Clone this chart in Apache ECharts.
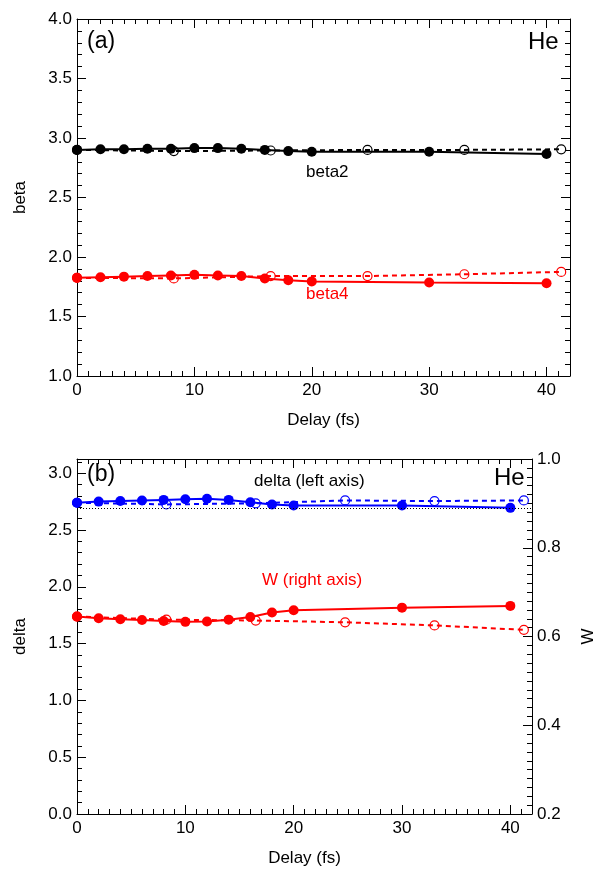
<!DOCTYPE html>
<html>
<head>
<meta charset="utf-8">
<script src="https://cdn.jsdelivr.net/npm/echarts@6/dist/echarts.min.js"></script>
<style>
  html, body { margin: 0; padding: 0; background: #fff; }
  #chart { width: 605px; height: 874px; }
</style>
</head>
<body>
<div id="chart"></div>
<script>
// Delay values (fs) for the two measurement sets
const delayFilled = [0, 2, 4, 6, 8, 10, 12, 14, 16, 18, 20, 30, 40];
const delayOpen = [0, 8.25, 16.5, 24.75, 33, 41.25];

// Panel (a): anisotropy parameters
const beta2Filled = [2.90, 2.905, 2.905, 2.91, 2.91, 2.915, 2.915, 2.91, 2.90, 2.89, 2.885, 2.885, 2.865];
const beta2Open = [2.90, 2.89, 2.895, 2.90, 2.90, 2.905];
const beta4Filled = [1.825, 1.83, 1.835, 1.84, 1.845, 1.85, 1.845, 1.84, 1.82, 1.805, 1.795, 1.785, 1.78];
const beta4Open = [1.825, 1.82, 1.84, 1.84, 1.855, 1.875];

// Panel (b): delta (left axis) and W (right axis)
const deltaFilled = [2.74, 2.75, 2.755, 2.76, 2.765, 2.77, 2.775, 2.765, 2.745, 2.725, 2.715, 2.715, 2.695];
const deltaOpen = [2.74, 2.725, 2.735, 2.76, 2.755, 2.76];
const deltaRef = 2.69;
const wFilled = [0.645, 0.641, 0.639, 0.637, 0.635, 0.633, 0.634, 0.638, 0.644, 0.654, 0.659, 0.665, 0.669];
const wOpen = [0.645, 0.638, 0.636, 0.632, 0.625, 0.615];

// Tick setup
const delayMin = 0, delayMax = 42, delayStep = 10;
const betaMin = 1.0, betaMax = 4.0, betaStep = 0.5;
const deltaMin = 0, deltaMax = 3.125, deltaStep = 0.5;
const wMin = 0.2, wMax = 1.0, wStep = 0.2;

const FONT = '"Liberation Sans", Helvetica, Arial, sans-serif';
const pairs = (xs, ys) => xs.map((x, i) => [x, ys[i]]);

const axisLine = { show: true, onZero: false, lineStyle: { color: '#000', width: 1 } };
const tick = { show: true, inside: true, length: 9, lineStyle: { color: '#000', width: 1 } };
const labelStyle = { color: '#000', fontFamily: FONT, fontSize: 17 };

function xAxes(gridIndex) {
  const base = {
    type: 'value', gridIndex, min: delayMin, max: delayMax, interval: delayStep,
    axisLine, axisTick: tick, splitLine: { show: false },
    minorTick: { show: true, splitNumber: 10, length: 5, lineStyle: { color: '#000', width: 1 } }
  };
  return [
    Object.assign({}, base, {
      position: 'bottom',
      name: 'Delay (fs)', nameLocation: 'middle', nameGap: 36,
      nameTextStyle: { color: '#000', fontFamily: FONT, fontSize: 17 },
      axisLabel: Object.assign({ margin: 6, formatter: v => (v % delayStep === 0 ? String(v) : '') }, labelStyle)
    }),
    Object.assign({}, base, { position: 'top', axisLabel: { show: false } })
  ];
}

function yAxis(gridIndex, pos, min, max, step, minorSplit, name, showLabels, gap) {
  return {
    type: 'value', gridIndex, position: pos, min, max, interval: step,
    axisLine, axisTick: tick, splitLine: { show: false },
    minorTick: { show: true, splitNumber: minorSplit, length: 5, lineStyle: { color: '#000', width: 1 } },
    name, nameLocation: 'middle', nameGap: gap,
    nameTextStyle: { color: '#000', fontFamily: FONT, fontSize: 17 },
    axisLabel: Object.assign({
      show: showLabels, margin: 5,
      formatter: v => (Math.abs(v / step - Math.round(v / step)) < 1e-6 ? v.toFixed(1) : '')
    }, labelStyle)
  };
}

function filledLine(data, color, xi, yi) {
  return {
    type: 'line', xAxisIndex: xi, yAxisIndex: yi, data,
    symbol: 'circle', symbolSize: 10, z: 3,
    lineStyle: { color, width: 2 },
    itemStyle: { color },
    animation: false
  };
}

function openLine(data, color, xi, yi) {
  return {
    type: 'line', xAxisIndex: xi, yAxisIndex: yi, data,
    symbol: 'circle', symbolSize: 9, z: 2,
    lineStyle: { color, width: 2, type: [5, 4] },
    itemStyle: { color: 'rgba(0,0,0,0)', borderColor: color, borderWidth: 1.2 },
    animation: false
  };
}

const chart = echarts.init(document.getElementById('chart'), null, { renderer: 'canvas' });

chart.setOption({
  backgroundColor: '#fff',
  animation: false,
  grid: [
    { left: 77, top: 19, width: 493, height: 357 },
    { left: 77, top: 459, width: 458, height: 355 }
  ],
  xAxis: [...xAxes(0), ...xAxes(1)],
  yAxis: [
    yAxis(0, 'left', betaMin, betaMax, betaStep, 5, 'beta', true, 48),
    yAxis(0, 'right', betaMin, betaMax, betaStep, 5, '', false, 0),
    yAxis(1, 'left', deltaMin, deltaMax, deltaStep, 5, 'delta', true, 48),
    Object.assign(yAxis(1, 'right', wMin, wMax, wStep, 10, 'W', true, 48), { nameRotate: 90 })
  ],
  series: [
    openLine(pairs(delayOpen, beta2Open), '#000', 0, 0),
    filledLine(pairs(delayFilled, beta2Filled), '#000', 0, 0),
    openLine(pairs(delayOpen, beta4Open), '#ff0000', 0, 0),
    filledLine(pairs(delayFilled, beta4Filled), '#ff0000', 0, 0),
    Object.assign(openLine(pairs(delayOpen, deltaOpen), '#0000ff', 2, 2), {
      markLine: {
        silent: true, symbol: 'none', label: { show: false },
        lineStyle: { color: '#000', width: 1, type: [1, 2] },
        data: [{ yAxis: deltaRef }]
      }
    }),
    filledLine(pairs(delayFilled, deltaFilled), '#0000ff', 2, 2),
    openLine(pairs(delayOpen, wOpen), '#ff0000', 2, 3),
    filledLine(pairs(delayFilled, wFilled), '#ff0000', 2, 3)
  ],
  graphic: [
    { type: 'text', left: 87, top: 30, style: { text: '(a)', font: '23px ' + FONT, fill: '#000' } },
    { type: 'text', left: 528, top: 30, style: { text: 'He', font: '24px ' + FONT, fill: '#000' } },
    { type: 'text', left: 306, top: 164, style: { text: 'beta2', font: '17px ' + FONT, fill: '#000' } },
    { type: 'text', left: 306, top: 286, style: { text: 'beta4', font: '17px ' + FONT, fill: '#ff0000' } },
    { type: 'text', left: 87, top: 463, style: { text: '(b)', font: '23px ' + FONT, fill: '#000' } },
    { type: 'text', left: 494, top: 466, style: { text: 'He', font: '24px ' + FONT, fill: '#000' } },
    { type: 'text', left: 254, top: 473, style: { text: 'delta (left axis)', font: '17px ' + FONT, fill: '#000' } },
    { type: 'text', left: 262, top: 572, style: { text: 'W (right axis)', font: '17px ' + FONT, fill: '#ff0000' } }
  ]
});
</script>
</body>
</html>
